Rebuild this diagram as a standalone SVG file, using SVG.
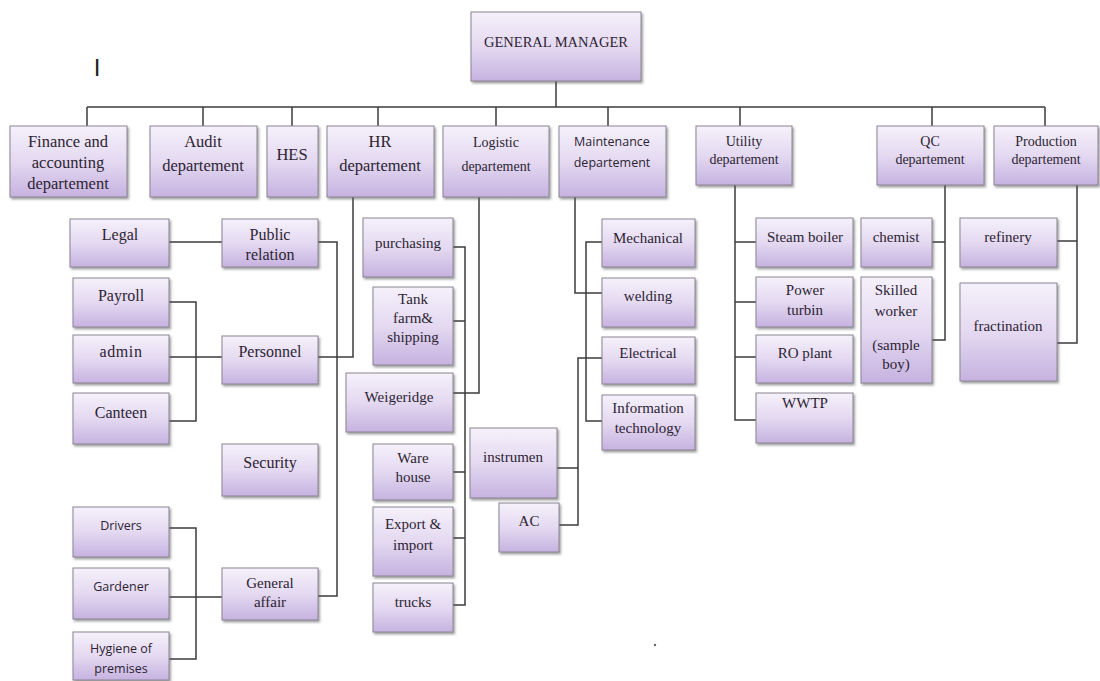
<svg xmlns="http://www.w3.org/2000/svg" width="1100" height="681" viewBox="0 0 1100 681">
<defs>
<linearGradient id="g" x1="0" y1="0" x2="0" y2="1">
<stop offset="0" stop-color="#f5f1fb"/>
<stop offset="0.5" stop-color="#e4d9f1"/>
<stop offset="1" stop-color="#c6b2e0"/>
</linearGradient>
<filter id="sh" x="-10%" y="-10%" width="130%" height="140%">
<feDropShadow dx="1.5" dy="2" stdDeviation="1" flood-color="#555" flood-opacity="0.55"/>
</filter>
<style>
.box{fill:url(#g);stroke:#8a8592;stroke-width:1;filter:url(#sh)}
.t{font-family:"Liberation Serif",serif;font-size:15px;fill:#2d2433;text-anchor:middle}
.l{font-size:16px}
.d{font-size:16.5px}
.m{font-size:14px}
.s{font-family:"Open Sans","Liberation Sans",sans-serif;font-size:12.5px;fill:#2d2433;text-anchor:middle}
.c{fill:none;stroke:#3c3c3c;stroke-width:1.5}
</style>
</defs>
<rect width="1100" height="681" fill="#ffffff"/>
<text x="97" y="76" font-family="Liberation Sans,sans-serif" font-size="24" fill="#222" text-anchor="middle">I</text>
<circle cx="655" cy="645" r="1.2" fill="#666"/>

<g id="connectors">
<path class="c" d="M556 80V107M87 107H1045M87 107V126M203 107V126M292 107V126M378 107V126M496 107V126M608 107V126M740 107V126M932 107V126M1045 107V126"/>
<path class="c" d="M353 197V357H318M169 242H222M318 242H337V596H318M169 302H196V421H169M169 357H222M169 528H196V659H169M169 597H222"/>
<path class="c" d="M479 197V393H453M453 247H465V605H453M453 321H465M453 472H465M453 538H465"/>
<path class="c" d="M575 197V293H602M602 242H586V421H602M602 358H578V525H559M557 468H578"/>
<path class="c" d="M735 185V420H756M735 242H756M735 302H756M735 357H756"/>
<path class="c" d="M945 185V340H932M932 242H945"/>
<path class="c" d="M1077 185V343H1057M1057 241H1077"/>
</g>

<g id="gm"><rect class="box" x="471" y="12" width="170" height="69"/><text class="t" x="556" y="47" style="font-size:14.5px">GENERAL MANAGER</text></g>

<g id="finance"><rect class="box" x="10" y="126" width="117" height="71"/><text class="t d" x="68" y="147">Finance and</text><text class="t d" x="68" y="168">accounting</text><text class="t d" x="68" y="189">departement</text></g>
<g id="audit"><rect class="box" x="150" y="126" width="107" height="71"/><text class="t d" x="203" y="147">Audit</text><text class="t d" x="203" y="171">departement</text></g>
<g id="hes"><rect class="box" x="267" y="126" width="51" height="71"/><text class="t d" x="292" y="160">HES</text></g>
<g id="hr"><rect class="box" x="327" y="126" width="107" height="71"/><text class="t d" x="380" y="147">HR</text><text class="t d" x="380" y="171">departement</text></g>
<g id="logistic"><rect class="box" x="443" y="126" width="106" height="71"/><text class="t m" x="496" y="147">Logistic</text><text class="t m" x="496" y="171">departement</text></g>
<g id="maintenance"><rect class="box" x="559" y="126" width="107" height="71"/><text class="s" x="612" y="146">Maintenance</text><text class="s" x="612" y="167">departement</text></g>
<g id="utility"><rect class="box" x="696" y="126" width="96" height="59"/><text class="t m" x="744" y="146">Utility</text><text class="t m" x="744" y="164">departement</text></g>
<g id="qc"><rect class="box" x="877" y="126" width="107" height="59"/><text class="t m" x="930" y="146">QC</text><text class="t m" x="930" y="164">departement</text></g>
<g id="production"><rect class="box" x="994" y="126" width="104" height="59"/><text class="t m" x="1046" y="146">Production</text><text class="t m" x="1046" y="164">departement</text></g>

<g id="legal"><rect class="box" x="70" y="219" width="99" height="48"/><text class="t l" x="120" y="240">Legal</text></g>
<g id="public-relation"><rect class="box" x="222" y="219" width="96" height="48"/><text class="t l" x="270" y="240">Public</text><text class="t l" x="270" y="260">relation</text></g>
<g id="payroll"><rect class="box" x="73" y="278" width="96" height="49"/><text class="t l" x="121" y="301">Payroll</text></g>
<g id="admin"><rect class="box" x="73" y="335" width="96" height="48"/><text class="t l" x="121" y="357" letter-spacing="0.6">admin</text></g>
<g id="canteen"><rect class="box" x="73" y="393" width="96" height="51"/><text class="t l" x="121" y="418">Canteen</text></g>
<g id="personnel"><rect class="box" x="222" y="336" width="96" height="48"/><text class="t l" x="270" y="357">Personnel</text></g>
<g id="security"><rect class="box" x="222" y="444" width="96" height="52"/><text class="t l" x="270" y="468">Security</text></g>
<g id="drivers"><rect class="box" x="73" y="507" width="96" height="50"/><text class="s" x="121" y="530">Drivers</text></g>
<g id="gardener"><rect class="box" x="73" y="568" width="96" height="51"/><text class="s" x="121" y="591">Gardener</text></g>
<g id="hygiene"><rect class="box" x="73" y="632" width="96" height="48"/><text class="s" x="121" y="653">Hygiene of</text><text class="s" x="121" y="673">premises</text></g>
<g id="general-affair"><rect class="box" x="222" y="568" width="96" height="52"/><text class="t" x="270" y="588">General</text><text class="t" x="270" y="607">affair</text></g>

<g id="purchasing"><rect class="box" x="363" y="218" width="90" height="59"/><text class="t" x="408" y="248">purchasing</text></g>
<g id="tank-farm"><rect class="box" x="373" y="287" width="80" height="78"/><text class="t" x="413" y="304">Tank</text><text class="t" x="413" y="323">farm&amp;</text><text class="t" x="413" y="342">shipping</text></g>
<g id="weigeridge"><rect class="box" x="346" y="373" width="107" height="59"/><text class="t" x="399" y="402">Weigeridge</text></g>
<g id="warehouse"><rect class="box" x="373" y="444" width="80" height="56"/><text class="t" x="413" y="463">Ware</text><text class="t" x="413" y="482">house</text></g>
<g id="export"><rect class="box" x="373" y="507" width="80" height="69"/><text class="t" x="413" y="529">Export &amp;</text><text class="t" x="413" y="550">import</text></g>
<g id="trucks"><rect class="box" x="373" y="583" width="80" height="49"/><text class="t" x="413" y="607">trucks</text></g>

<g id="mechanical"><rect class="box" x="602" y="219" width="93" height="48"/><text class="t" x="648" y="243">Mechanical</text></g>
<g id="welding"><rect class="box" x="602" y="278" width="93" height="49"/><text class="t" x="648" y="301">welding</text></g>
<g id="electrical"><rect class="box" x="602" y="337" width="93" height="47"/><text class="t" x="648" y="358">Electrical</text></g>
<g id="it"><rect class="box" x="602" y="395" width="93" height="55"/><text class="t" x="648" y="413">Information</text><text class="t" x="648" y="433">technology</text></g>
<g id="instrumen"><rect class="box" x="470" y="428" width="87" height="70"/><text class="t" x="513" y="462">instrumen</text></g>
<g id="ac"><rect class="box" x="499" y="503" width="60" height="49"/><text class="t" x="529" y="526">AC</text></g>

<g id="steam-boiler"><rect class="box" x="756" y="218" width="97" height="49"/><text class="t" x="805" y="242">Steam boiler</text></g>
<g id="power-turbin"><rect class="box" x="756" y="277" width="97" height="50"/><text class="t" x="805" y="295">Power</text><text class="t" x="805" y="315">turbin</text></g>
<g id="ro-plant"><rect class="box" x="756" y="335" width="97" height="48"/><text class="t" x="805" y="358">RO plant</text></g>
<g id="wwtp"><rect class="box" x="756" y="393" width="97" height="50"/><text class="t" x="805" y="408">WWTP</text></g>

<g id="chemist"><rect class="box" x="861" y="218" width="71" height="49"/><text class="t" x="896" y="242">chemist</text></g>
<g id="skilled-worker"><rect class="box" x="861" y="277" width="71" height="106"/><text class="t" x="896" y="295">Skilled</text><text class="t" x="896" y="316">worker</text><text class="t" x="896" y="350">(sample</text><text class="t" x="896" y="369">boy)</text></g>

<g id="refinery"><rect class="box" x="960" y="218" width="97" height="49"/><text class="t" x="1008" y="242">refinery</text></g>
<g id="fractination"><rect class="box" x="960" y="283" width="97" height="98"/><text class="t" x="1008" y="331">fractination</text></g>
</svg>
